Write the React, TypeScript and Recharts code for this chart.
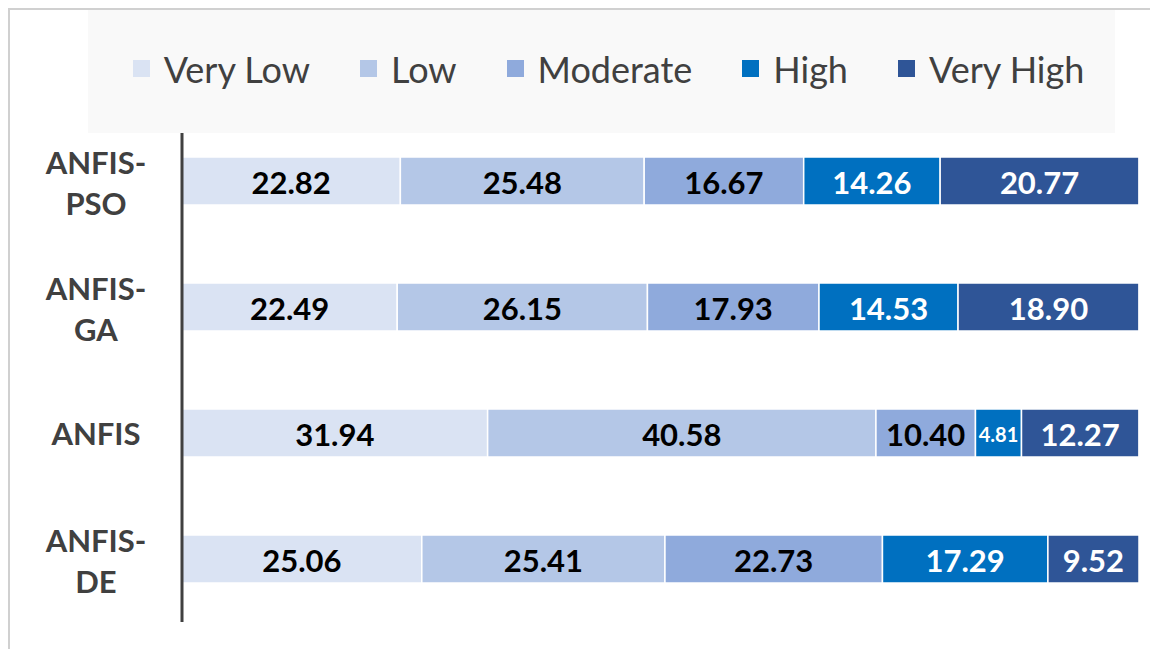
import React from 'react';
import { BarChart, Bar, XAxis, YAxis, Legend, LabelList } from 'recharts';

const models = ['ANFIS-PSO', 'ANFIS-GA', 'ANFIS', 'ANFIS-DE'];
const veryLow = [22.82, 22.49, 31.94, 25.06];
const low = [25.48, 26.15, 40.58, 25.41];
const moderate = [16.67, 17.93, 10.4, 22.73];
const high = [14.26, 14.53, 4.81, 17.29];
const veryHigh = [20.77, 18.9, 12.27, 9.52];

const series = [
  { key: 'veryLow', name: 'Very Low', color: '#dae3f3', text: '#000000' },
  { key: 'low', name: 'Low', color: '#b4c7e7', text: '#000000' },
  { key: 'moderate', name: 'Moderate', color: '#8faadc', text: '#000000' },
  { key: 'high', name: 'High', color: '#0070c0', text: '#ffffff' },
  { key: 'veryHigh', name: 'Very High', color: '#2f5597', text: '#ffffff' }
];

const data = models.map((model, i) => ({
  model,
  veryLow: veryLow[i],
  low: low[i],
  moderate: moderate[i],
  high: high[i],
  veryHigh: veryHigh[i]
}));

const FONT = 'Lato, "Open Sans", sans-serif';

const ModelTick = ({ y, payload }: any) => {
  const parts = String(payload.value).includes('-')
    ? [payload.value.split('-')[0] + '-', payload.value.split('-')[1]]
    : [payload.value];
  const offsets = parts.length === 2 ? [-19, 22] : [0];
  return (
    <g>
      {parts.map((p: string, i: number) => (
        <text
          key={i}
          x={86}
          y={y + offsets[i]}
          textAnchor="middle"
          dominantBaseline="central"
          fill="#404040"
          fontFamily={FONT}
          fontWeight={700}
          fontSize={31}
        >
          {p}
        </text>
      ))}
    </g>
  );
};

const makeLabel = (fill: string) => (props: any) => {
  const { x, y, width, height, value } = props;
  const small = width < 60;
  return (
    <text
      x={x + width / 2}
      y={y + height / 2 + 1}
      textAnchor="middle"
      dominantBaseline="central"
      fill={fill}
      fontFamily={FONT}
      fontWeight={700}
      fontSize={small ? 20 : 31}
    >
      {Number(value).toFixed(2)}
    </text>
  );
};

const LegendBox = () => (
  <div
    style={{
      width: '100%',
      height: '100%',
      background: '#f9f9f9',
      display: 'flex',
      alignItems: 'center',
      justifyContent: 'center',
      gap: 50,
      paddingLeft: 14,
      paddingBottom: 6,
      boxSizing: 'border-box',
      fontFamily: FONT,
      fontSize: 36,
      color: '#404040'
    }}
  >
    {series.map((s) => (
      <div key={s.key} style={{ display: 'flex', alignItems: 'center' }}>
        <span
          style={{
            width: 17,
            height: 17,
            background: s.color,
            marginRight: 14,
            display: 'inline-block'
          }}
        />
        <span>{s.name}</span>
      </div>
    ))}
  </div>
);

export default function App() {
  return (
    <div
      style={{
        width: 1148,
        height: 639,
        borderTop: '2px solid #d0d0d0',
        borderLeft: '2px solid #d0d0d0'
      }}
    >
      <BarChart
        width={1148}
        height={639}
        data={data}
        layout="vertical"
        barSize={48}
        margin={{ top: 108, right: 19, bottom: 27, left: 0 }}
      >
        <XAxis type="number" domain={[0, 100]} hide />
        <YAxis
          type="category"
          dataKey="model"
          width={172}
          tickLine={false}
          axisLine={{ stroke: '#404040', strokeWidth: 3 }}
          tick={<ModelTick />}
        />
        <Legend
          verticalAlign="middle"
          layout="horizontal"
          content={<LegendBox />}
          wrapperStyle={{ left: 78, top: 0, width: 1027, height: 123 }}
        />
        {series.map((s) => (
          <Bar
            key={s.key}
            dataKey={s.key}
            name={s.name}
            stackId="a"
            fill={s.color}
            stroke="#ffffff"
            strokeWidth={1.5}
            isAnimationActive={false}
          >
            <LabelList dataKey={s.key} content={makeLabel(s.text)} />
          </Bar>
        ))}
      </BarChart>
    </div>
  );
}
